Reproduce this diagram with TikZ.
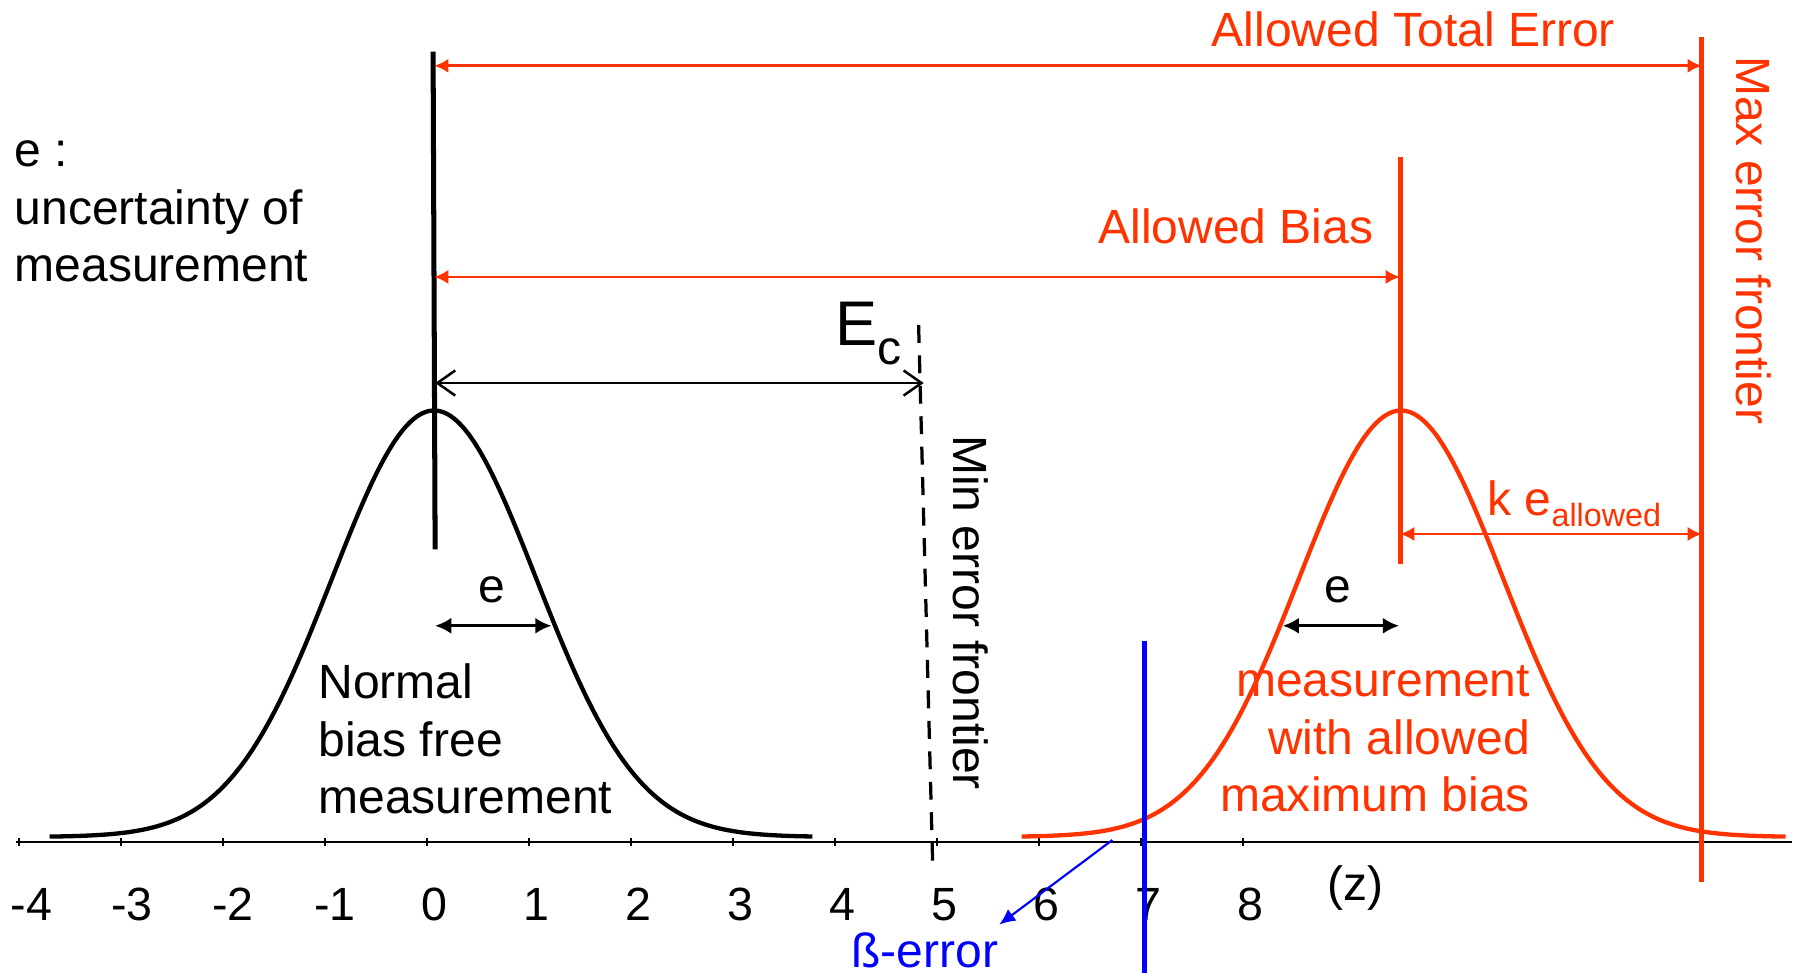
\documentclass[tikz,border=0pt]{standalone}
\usepackage{fontspec}
\setmainfont{Liberation Sans}
\usetikzlibrary{arrows.meta}
\definecolor{errred}{HTML}{FF3300}
\begin{document}
\begin{tikzpicture}[x=1.0cm,y=1.0cm,
    lbl/.style={font=\fontsize{13.4}{16}\selectfont,inner sep=0pt},
    num/.style={font=\fontsize{13}{15}\selectfont,inner sep=0pt},
    bar/.style={line width=1.4pt},
    bell/.style={line width=1.2pt,samples=150,smooth},
    dimred/.style={draw=errred,line width=0.8pt,
      {Latex[length=4pt,width=4pt]}-{Latex[length=4pt,width=4pt]}},
    dimblk/.style={line width=0.8pt,
      {Latex[length=4.5pt,width=4.5pt]}-{Latex[length=4.5pt,width=4.5pt]}}]
  \useasboundingbox (-4.186,-1.284) rectangle (13.471,8.255);
  \draw[line width=0.8pt] (-4.03,0) -- (13.38,0);
  \foreach \z/\dx [count=\i] in {-4/0.12,-3/0.11,-2/0.1,-1/0.1,0/0.07,1/0.07,2/0.07,3/0.07,4/0.07,5/0.07,6/0.07,7/0.07,8/0.07}{
    \draw[line width=0.6pt] (\z,0.035) -- (\z,-0.035);
    \node[num] (tick\i) at (\z+\dx,-0.61) {\z};
  }
  \draw[bell] plot[domain=-3.7:3.78] (\x,{0.05+4.18*exp(-0.5*(\x-0.07)*(\x-0.07))});
  \draw[bell,errred] plot[domain=5.83:13.32] (\x,{0.05+4.18*exp(-0.5*(\x-9.55)*(\x-9.55))});

  \draw[bar] (0.06,7.75) -- (0.08,2.87);
  \draw[bar,errred] (9.54,6.72) -- (9.54,2.73);
  \draw[bar,errred] (12.5,7.89) -- (12.5,-0.39);
  \draw[bar,blue] (7.03,1.97) -- (7.03,-1.3);
  \draw[line width=0.9pt,dash pattern=on 5pt off 3.5pt] (4.82,5.07) -- (4.96,-0.30);

  \coordinate (tot0) at (0.07,7.61);
  \coordinate (tot1) at (12.5,7.61);
  \coordinate (bias0) at (0.07,5.54);
  \coordinate (bias1) at (9.54,5.54);
  \coordinate (ec0) at (0.08,4.5);
  \coordinate (ec1) at (4.87,4.5);
  \coordinate (ke0) at (9.54,3.02);
  \coordinate (ke1) at (12.5,3.02);
  \coordinate (ea0) at (0.08,2.12);
  \coordinate (ea1) at (1.22,2.12);
  \coordinate (eb0) at (8.39,2.12);
  \coordinate (eb1) at (9.53,2.12);
  \coordinate (beta0) at (6.72,0.02);
  \coordinate (beta1) at (5.61,-0.81);

  \draw[dimred] (tot0) -- (tot1);
  \draw[dimred] (bias0) -- (bias1);
  \draw[line width=0.7pt,{Straight Barb[length=5pt,width=7pt]}-{Straight Barb[length=5pt,width=7pt]}] (ec0) -- (ec1);
  \draw[dimred] (ke0) -- (ke1);
  \draw[dimblk] (ea0) -- (ea1);
  \draw[dimblk] (eb0) -- (eb1);
  \draw[blue,line width=0.6pt,-{Latex[length=4.5pt,width=4pt]}] (beta0) -- (beta1);

  \node[lbl,errred] (totlab) at (9.67,7.97) {Allowed Total Error};
  \node[lbl,errred] (biaslab) at (7.93,6.04) {Allowed Bias};
  \node[inner sep=0pt,anchor=base west] (eclab) at (4.0,4.87)
    {\fontsize{17.6}{18}\selectfont E\raisebox{-5.3pt}{\fontsize{13.4}{14}\selectfont c}};
  \node[lbl,errred,anchor=base west] (kelab) at (10.39,3.2)
    {k e\raisebox{-3pt}{\fontsize{9}{9}\selectfont allowed}};
  \node[lbl] (ealab) at (0.64,2.47) {e};
  \node[lbl] (eblab) at (8.93,2.47) {e};
  \node[lbl,align=left,anchor=west] (uncert) at (-4.05,6.18) {e :\\uncertainty of\\measurement};
  \node[lbl,align=left,anchor=west] (normal) at (-1.07,1.01) {Normal\\bias free\\measurement};
  \node[lbl,errred,align=right,anchor=east] (biased) at (10.82,1.01) {measurement\\with allowed\\maximum bias};
  \node[lbl,rotate=-90] (minlab) at (5.33,2.25) {Min error frontier};
  \node[lbl,errred,rotate=-90] (maxlab) at (13.01,5.9) {Max error frontier};
  \node[lbl] (zlab) at (9.1,-0.45) {(z)};
  \node[lbl,blue] (betalab) at (4.88,-1.06) {ß-error};
\end{tikzpicture}
\end{document}
